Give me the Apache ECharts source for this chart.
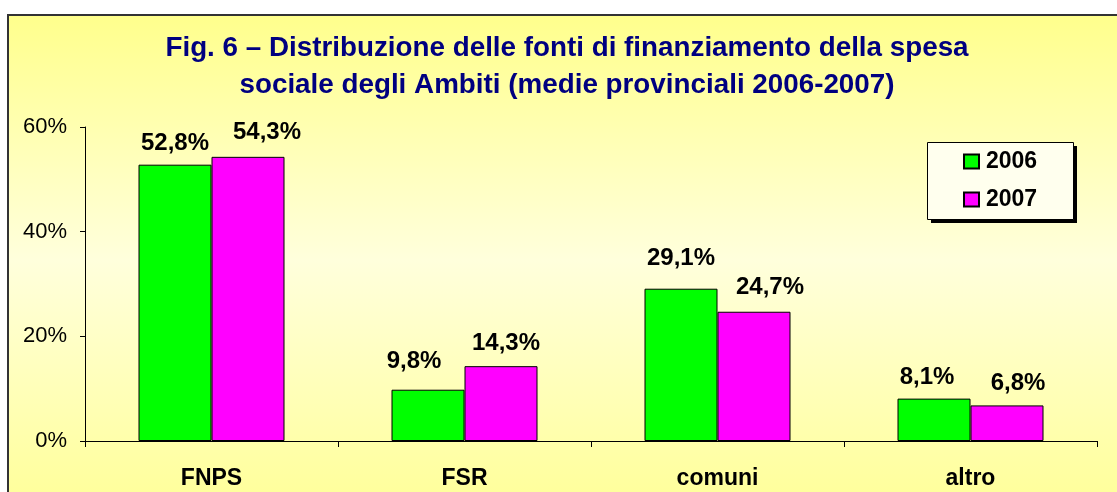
<!DOCTYPE html>
<html>
<head>
<meta charset="utf-8">
<script src="https://cdn.jsdelivr.net/npm/echarts@6/dist/echarts.min.js"></script>
<style>
  html, body { margin: 0; padding: 0; background: #fff; }
  #chart { width: 1117px; height: 492px; }
</style>
</head>
<body>
<div id="chart"></div>
<script>
// categories and values (percent)
const categories = ["FNPS", "FSR", "comuni", "altro"];
const values2006 = [52.8, 9.8, 29.1, 8.1];
const values2007 = [54.3, 14.3, 24.7, 6.8];
const yTicks = [0, 20, 40, 60];

// label nudges as placed by hand in the original sheet [dx, dy]
const labelOff2006 = [[0, 0], [-14, -7], [0, -9], [-7, 0]];
const labelOff2007 = [[19, -3], [5, -2], [16, -3], [11, -1]];

const FONT = "Liberation Sans, Arial, sans-serif";
const COL_2006 = "#00FF00";
const COL_2007 = "#FF00FF";

const chart = echarts.init(document.getElementById("chart"), null, { renderer: "canvas" });

const fmt = v => v.toFixed(1).replace(".", ",") + "%";

const barLabel = {
  show: true,
  position: "top",
  distance: 9,
  color: "#000",
  fontFamily: FONT,
  fontWeight: "bold",
  fontSize: 24,
  formatter: p => fmt(p.value)
};

const withOffsets = (vals, offs) =>
  vals.map((v, i) => ({ value: v, label: { offset: offs[i] } }));

chart.setOption({
  animation: false,
  backgroundColor: "#fff",

  graphic: [
    {
      type: "rect",
      z: -10,
      shape: { x: 8, y: 15, width: 1120, height: 490 },
      style: {
        fill: {
          type: "linear", x: 0, y: 0, x2: 0, y2: 1,
          colorStops: [
            { offset: 0, color: "#FFFF8C" },
            { offset: 0.5, color: "#FFFFDC" },
            { offset: 1, color: "#FFFF99" }
          ]
        },
        stroke: "#333",
        lineWidth: 2
      }
    },
    // legend box shadow + frame
    {
      type: "rect",
      z: -5,
      shape: { x: 931, y: 146, width: 146, height: 77 },
      style: { fill: "#000" }
    },
    {
      type: "rect",
      z: -4,
      shape: { x: 927.5, y: 142.5, width: 146, height: 77 },
      style: { fill: "#FFFFEE", stroke: "#000", lineWidth: 1 }
    }
  ],

  title: {
    text: "Fig. 6 – Distribuzione delle fonti di finanziamento della spesa\nsociale degli Ambiti (medie provinciali 2006-2007)",
    left: 562,
    top: 25,
    textAlign: "center",
    textStyle: {
      color: "#000080",
      fontFamily: FONT,
      fontWeight: "bold",
      fontSize: 27.8,
      lineHeight: 37
    }
  },

  legend: {
    orient: "vertical",
    left: 963,
    top: 150,
    padding: 0,
    itemGap: 15,
    itemWidth: 15,
    itemHeight: 14,
    icon: "rect",
    textStyle: {
      color: "#000",
      fontFamily: FONT,
      fontWeight: "bold",
      fontSize: 23,
      padding: [0, 0, 0, 2]
    },
    data: ["2006", "2007"]
  },

  grid: { left: 85, right: 20, top: 127, bottom: 51 },

  xAxis: {
    type: "category",
    data: categories,
    axisLine: { lineStyle: { color: "#000", width: 1 } },
    axisTick: { show: true, length: 6, lineStyle: { color: "#000" } },
    axisLabel: {
      margin: 26,
      color: "#000",
      fontFamily: FONT,
      fontWeight: "bold",
      fontSize: 23
    }
  },

  yAxis: {
    type: "value",
    min: yTicks[0],
    max: yTicks[yTicks.length - 1],
    interval: 20,
    axisLine: { show: true, lineStyle: { color: "#000", width: 1 } },
    axisTick: { show: true, length: 5, lineStyle: { color: "#000" } },
    splitLine: { show: false },
    axisLabel: {
      margin: 18,
      color: "#000",
      fontFamily: FONT,
      fontSize: 22,
      formatter: "{value}%"
    }
  },

  series: [
    {
      name: "2006",
      type: "bar",
      data: withOffsets(values2006, labelOff2006),
      barWidth: 73,
      barGap: "0%",
      itemStyle: { color: COL_2006, borderColor: "#000", borderWidth: 1 },
      label: barLabel
    },
    {
      name: "2007",
      type: "bar",
      data: withOffsets(values2007, labelOff2007),
      barWidth: 73,
      barGap: "0%",
      itemStyle: { color: COL_2007, borderColor: "#000", borderWidth: 1 },
      label: barLabel
    }
  ]
});

window.addEventListener("resize", () => chart.resize());
</script>
</body>
</html>
